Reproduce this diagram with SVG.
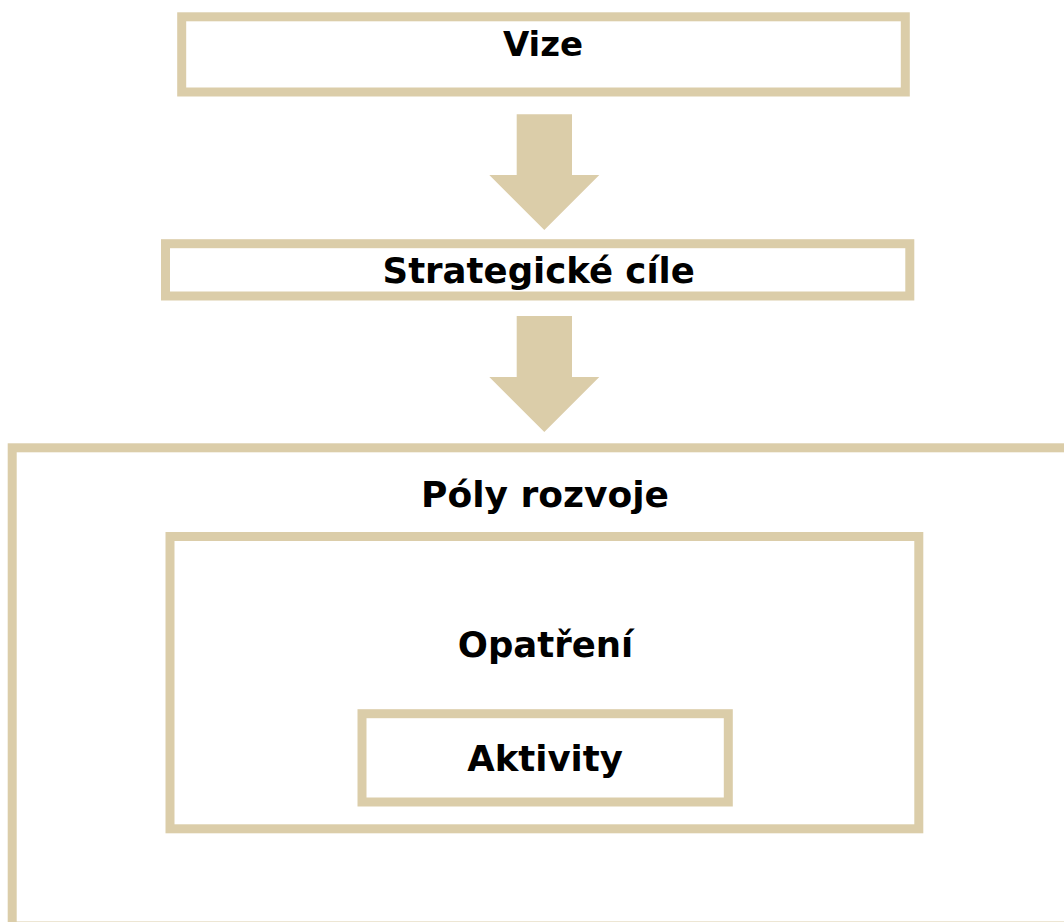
<svg xmlns="http://www.w3.org/2000/svg" width="1064" height="922" viewBox="0 0 1064 922">
  <style>
    .box { fill: none; stroke: #DBCDA9; stroke-width: 9; }
    .arrow { fill: #DBCDA9; stroke: none; }
    .label { font-family: "DejaVu Sans", Verdana, sans-serif; font-weight: bold; font-size: 35.5px; fill: #000000; text-anchor: middle; }
  </style>
  <rect x="0" y="0" width="1064" height="922" fill="#FFFFFF"/>
  <g id="node-vize">
    <rect class="box" x="181.7" y="16.8" width="723.6" height="75.2"/>
    <text class="label" x="543" y="56" style="font-size:34px">Vize</text>
  </g>
  <g id="node-strategicke-cile">
    <rect class="box" x="165.5" y="243.7" width="744.3" height="52.3"/>
    <text class="label" x="538.7" y="283">Strategické cíle</text>
  </g>
  <g id="node-poly-rozvoje">
    <rect class="box" x="12.2" y="447.8" width="1100" height="478.2"/>
    <text class="label" x="545" y="506.5" style="font-size:36px">Póly rozvoje</text>
  </g>
  <g id="node-opatreni">
    <rect class="box" x="170" y="536.5" width="748.8" height="292.3"/>
    <text class="label" x="545.5" y="656.5">Opatření</text>
  </g>
  <g id="node-aktivity">
    <rect class="box" x="362" y="713.7" width="366.3" height="88.3"/>
    <text class="label" x="545" y="770.5">Aktivity</text>
  </g>
  <g id="connectors">
    <polygon class="arrow" points="516.7,114.3 572,114.3 572,175 599.3,175 544.3,230 489.3,175 516.7,175"/>
    <polygon class="arrow" points="516.7,316 572,316 572,377 599.3,377 544.3,432 489.3,377 516.7,377"/>
  </g>
</svg>
